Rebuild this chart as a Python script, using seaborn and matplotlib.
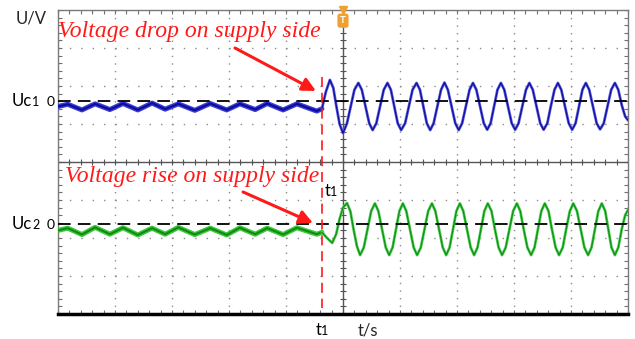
import numpy as np
import pandas as pd
import seaborn as sns
import matplotlib.pyplot as plt
from matplotlib.offsetbox import TextArea, HPacker, AnnotationBbox

# scope screen in divisions: 10 horizontal x 8 vertical
t1 = -0.37
uc1_zero = 1.60
uc2_zero = -1.63

# Uc1 (blue) before t1: small ripple
blue_pre_t = [-5.00, -4.83, -4.58, -4.35, -4.09, -3.86, -3.60, -3.35, -3.12, -2.89,
              -2.60, -2.33, -2.04, -1.81, -1.54, -1.33, -1.05, -0.81, -0.46, -0.37]
blue_pre_v = [1.46, 1.52, 1.37, 1.53, 1.38, 1.54, 1.37, 1.55, 1.39, 1.53,
              1.36, 1.54, 1.37, 1.53, 1.38, 1.54, 1.37, 1.53, 1.34, 1.40]

# Uc1 after t1: oscillation
blue_post_t = [-0.37, -0.30, -0.23, -0.17, -0.12, -0.06, 0.00, 0.07, 0.135, 0.20,
               0.27, 0.33, 0.395, 0.46, 0.52, 0.585, 0.65, 0.715,
               0.78, 0.84, 0.90, 0.96, 1.02, 1.09, 1.155, 1.22,
               1.29, 1.35, 1.41, 1.47, 1.53, 1.59, 1.655, 1.72,
               1.78, 1.84, 1.905, 1.97, 2.03, 2.09, 2.155, 2.22,
               2.28, 2.34, 2.405, 2.47, 2.53, 2.59, 2.65, 2.71,
               2.77, 2.83, 2.895, 2.96, 3.02, 3.08, 3.145, 3.21,
               3.27, 3.33, 3.395, 3.46, 3.52, 3.585, 3.645, 3.71,
               3.77, 3.83, 3.895, 3.96, 4.02, 4.08, 4.14, 4.20,
               4.26, 4.32, 4.385, 4.45, 4.51, 4.575, 4.64, 4.705,
               4.77, 4.83, 4.89, 4.95, 5.00]
blue_post_v = [1.40, 1.85, 2.16, 1.95, 1.50, 1.00, 0.76, 1.02, 1.46, 1.90,
               2.08, 1.90, 1.46, 1.02, 0.84, 1.02, 1.46, 1.90,
               2.08, 1.90, 1.46, 1.02, 0.84, 1.02, 1.46, 1.90,
               2.08, 1.90, 1.46, 1.02, 0.84, 1.02, 1.46, 1.90,
               2.09, 1.90, 1.46, 1.02, 0.84, 1.02, 1.46, 1.90,
               2.08, 1.90, 1.46, 1.02, 0.85, 1.02, 1.46, 1.90,
               2.08, 1.90, 1.46, 1.02, 0.85, 1.02, 1.46, 1.90,
               2.08, 1.90, 1.46, 1.02, 0.85, 1.02, 1.46, 1.90,
               2.08, 1.90, 1.46, 1.02, 0.85, 1.02, 1.46, 1.90,
               2.08, 1.90, 1.46, 1.02, 0.86, 1.02, 1.46, 1.90,
               2.08, 1.90, 1.50, 1.20, 1.10]

# Uc2 (green) before t1
green_pre_t = [-5.00, -4.83, -4.58, -4.35, -4.09, -3.86, -3.60, -3.35, -3.12, -2.89,
               -2.60, -2.33, -2.04, -1.81, -1.54, -1.33, -1.05, -0.81, -0.46, -0.37]
green_pre_v = [-1.80, -1.74, -1.91, -1.72, -1.90, -1.73, -1.92, -1.74, -1.90, -1.72,
               -1.91, -1.74, -1.92, -1.73, -1.90, -1.74, -1.91, -1.73, -1.90, -1.85]

# Uc2 after t1
green_post_t = [-0.37, -0.28, -0.19, -0.12, -0.06, 0.00, 0.07, 0.13, 0.185, 0.245,
                0.30, 0.365, 0.43, 0.495, 0.56, 0.62, 0.685, 0.75,
                0.81, 0.87, 0.93, 0.99, 1.05, 1.11, 1.175, 1.24,
                1.30, 1.365, 1.43, 1.495, 1.56, 1.62, 1.685, 1.75,
                1.81, 1.87, 1.93, 1.99, 2.05, 2.11, 2.175, 2.24,
                2.30, 2.36, 2.42, 2.48, 2.54, 2.605, 2.665, 2.73,
                2.79, 2.855, 2.92, 2.985, 3.05, 3.11, 3.17, 3.235,
                3.30, 3.36, 3.42, 3.48, 3.54, 3.605, 3.665, 3.73,
                3.79, 3.855, 3.915, 3.98, 4.04, 4.105, 4.17, 4.235,
                4.30, 4.36, 4.42, 4.48, 4.54, 4.60, 4.655, 4.71,
                4.77, 4.83, 4.89, 4.95, 5.00]
green_post_v = [-1.85, -2.00, -2.13, -1.90, -1.50, -1.20, -1.08, -1.30, -1.77, -2.22,
                -2.45, -2.25, -1.77, -1.29, -1.09, -1.29, -1.77, -2.25,
                -2.45, -2.25, -1.77, -1.29, -1.09, -1.29, -1.77, -2.25,
                -2.45, -2.25, -1.77, -1.29, -1.09, -1.29, -1.77, -2.25,
                -2.45, -2.25, -1.77, -1.29, -1.09, -1.29, -1.77, -2.25,
                -2.45, -2.25, -1.77, -1.29, -1.09, -1.29, -1.77, -2.25,
                -2.45, -2.25, -1.77, -1.29, -1.09, -1.29, -1.77, -2.25,
                -2.45, -2.25, -1.77, -1.29, -1.09, -1.29, -1.77, -2.25,
                -2.45, -2.25, -1.77, -1.29, -1.09, -1.29, -1.77, -2.25,
                -2.45, -2.25, -1.77, -1.29, -1.09, -1.29, -1.77, -2.25,
                -2.45, -2.25, -1.77, -1.40, -1.26]

top_note = "Voltage drop on supply side"
bottom_note = "Voltage rise on supply side"

sns.set_style("white")
FONT = "Lato"
RED = "#ff1a1a"

fig = plt.figure(figsize=(6.35, 3.39), dpi=100)
ax = fig.add_axes([58 / 635, 1 - 314 / 339, 570 / 635, 304 / 339])
ax.set_xlim(-5, 5)
ax.set_ylim(-4, 4)

# scope graticule
ax.set_xticks(np.arange(-5, 6))
ax.set_yticks(np.arange(-4, 5))
ax.set_xticks(np.arange(-5, 5.01, 0.2), minor=True)
ax.set_yticks(np.arange(-4, 4.01, 0.2), minor=True)
ax.xaxis.grid(True, which="major", color="#8c8c8c", lw=1.0, linestyle=(0, (1.0, 4.45)))
ax.yaxis.grid(True, which="major", color="#8c8c8c", lw=1.0, linestyle=(0, (1.0, 7.2)))
ax.tick_params(which="both", direction="in", length=3, width=0.8, color="#707070",
               top=True, right=True, bottom=True, left=True,
               labelleft=False, labelbottom=False)
for side in ["left", "right", "top"]:
    ax.spines[side].set_color("#7a7a7a")
    ax.spines[side].set_linewidth(1.0)
ax.spines["bottom"].set_color("black")
ax.spines["bottom"].set_linewidth(2.5)

# centre cross with small ticks
ax.axhline(0, color="#555555", lw=1.0, zorder=1)
ax.axvline(0, color="#555555", lw=1.0, zorder=1)
ax.plot(np.arange(-5, 5.01, 0.2), np.zeros(51), ls="none", marker="|", ms=5,
        mew=0.8, color="#555555", zorder=1)
ax.plot(np.zeros(41), np.arange(-4, 4.01, 0.2), ls="none", marker="_", ms=5,
        mew=0.8, color="#555555", zorder=1)

# channel zero references
ax.axhline(uc1_zero, color="black", lw=1.3, dashes=(7, 4), zorder=4)
ax.axhline(uc2_zero, color="black", lw=1.3, dashes=(7, 4), zorder=4)

# traces
pre1 = pd.DataFrame({"t": blue_pre_t, "u": blue_pre_v})
post1 = pd.DataFrame({"t": blue_post_t, "u": blue_post_v})
pre2 = pd.DataFrame({"t": green_pre_t, "u": green_pre_v})
post2 = pd.DataFrame({"t": green_post_t, "u": green_post_v})

sns.lineplot(data=pre1, x="t", y="u", ax=ax, color="#3a3ad6", lw=3.6,
             estimator=None, sort=False, zorder=3)
sns.lineplot(data=pre1, x="t", y="u", ax=ax, color="#0c0c9a", lw=1.5,
             estimator=None, sort=False, zorder=3)
sns.lineplot(data=post1, x="t", y="u", ax=ax, color="#5a5ae0", lw=2.0,
             estimator=None, sort=False, zorder=3)
sns.lineplot(data=post1, x="t", y="u", ax=ax, color="#10109c", lw=0.9,
             estimator=None, sort=False, zorder=3)

sns.lineplot(data=pre2, x="t", y="u", ax=ax, color="#3cc83c", lw=3.6,
             estimator=None, sort=False, zorder=3)
sns.lineplot(data=pre2, x="t", y="u", ax=ax, color="#108a10", lw=1.5,
             estimator=None, sort=False, zorder=3)
sns.lineplot(data=post2, x="t", y="u", ax=ax, color="#50d050", lw=2.0,
             estimator=None, sort=False, zorder=3)
sns.lineplot(data=post2, x="t", y="u", ax=ax, color="#10901a", lw=0.9,
             estimator=None, sort=False, zorder=3)

# t1 marker
ax.plot([t1, t1], [2.24, -3.85], color=RED, lw=1.2, dashes=(6, 3.5), zorder=5)

# trigger flag
ax.plot([0], [4.0], marker="v", ms=6, color="#f0a030", clip_on=False, zorder=6)
ax.text(0, 3.72, "T", ha="center", va="center", color="white", fontsize=7,
        fontweight="bold", family=FONT, zorder=6,
        bbox=dict(boxstyle="round,pad=0.2", fc="#f0a030", ec="#f0a030"))

# annotations
ax.text(-5.0, 3.29, top_note, color=RED, fontsize=17, style="italic",
        family="Liberation Serif", ha="left", va="baseline", zorder=6)
ax.text(-4.88, -0.53, bottom_note, color=RED, fontsize=17, style="italic",
        family="Liberation Serif", ha="left", va="baseline", zorder=6)
ax.annotate("", xy=(-0.474, 1.868), xytext=(-1.895, 3.0),
            arrowprops=dict(arrowstyle="-|>", color=RED, lw=2.2, mutation_scale=20,
                            shrinkA=0, shrinkB=0), zorder=6)
ax.annotate("", xy=(-0.526, -1.605), xytext=(-1.754, -0.789),
            arrowprops=dict(arrowstyle="-|>", color=RED, lw=2.2, mutation_scale=20,
                            shrinkA=0, shrinkB=0), zorder=6)


def packed_label(parts, xy, xycoords, align):
    kids = [TextArea(s, textprops=dict(size=sz, family=FONT, color="black")) for s, sz in parts]
    box = HPacker(children=kids, align="baseline", pad=0, sep=0)
    ab = AnnotationBbox(box, xy, xycoords=xycoords, box_alignment=align,
                        frameon=False, pad=0, annotation_clip=False)
    ax.add_artist(ab)


packed_label([("Uc", 12), ("1", 9), ("  0", 10)], (-0.006, uc1_zero),
             ("axes fraction", "data"), (1, 0.5))
packed_label([("Uc", 12), ("2", 9), ("  0", 10)], (-0.006, uc2_zero),
             ("axes fraction", "data"), (1, 0.5))
packed_label([("t", 12), ("1", 9)], (t1, -0.025), ("data", "axes fraction"), (0.5, 1))
packed_label([("t", 12), ("1", 9)], (-0.21, -0.76), "data", (0.5, 0.5))
ax.text(0.44, -0.055, "t/s", transform=ax.get_xaxis_transform(), ha="center",
        va="center", fontsize=12, family=FONT)
fig.text(31 / 635, 1 - 18 / 339, "U/V", ha="center", va="center", fontsize=12, family=FONT)

fig.savefig("out.png", dpi=100)
